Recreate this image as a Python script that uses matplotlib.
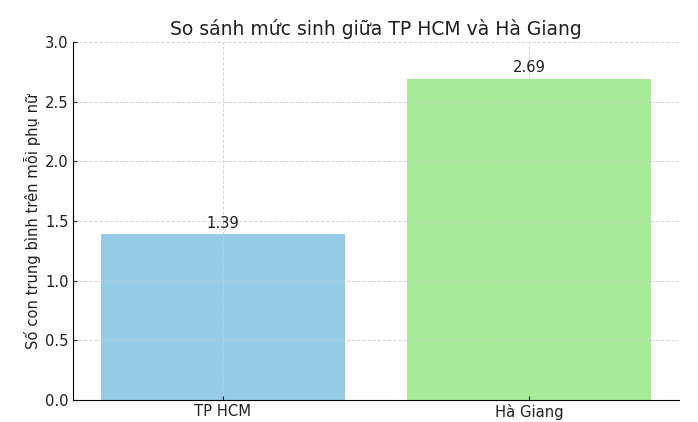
import matplotlib
matplotlib.use("Agg")
import matplotlib.pyplot as plt

regions = ["TP HCM", "Hà Giang"]
fertility = [1.39, 2.69]
colors = ["#96cbe8", "#a7eb98"]

plt.rcParams["text.color"] = "#1f1f1f"
plt.rcParams["axes.labelcolor"] = "#1f1f1f"
plt.rcParams["xtick.color"] = "#1f1f1f"
plt.rcParams["ytick.color"] = "#1f1f1f"

fig = plt.figure(figsize=(6.98, 4.22), dpi=100)
ax = fig.add_axes([0.1046, 0.0521, 0.8682, 0.8484])

bars = ax.bar(regions, fertility, color=colors)
ax.set_ylim(0, 3.0)
ax.set_title("So sánh mức sinh giữa TP HCM và Hà Giang", fontsize=13.5, pad=5)
ax.set_ylabel("Số con trung bình trên mỗi phụ nữ", fontsize=10.6, labelpad=3)
ax.tick_params(labelsize=10.6, direction="in", length=3, pad=3)
ax.grid(True, linestyle="--", color="#cccccc", linewidth=0.7, alpha=0.8)
ax.spines["top"].set_visible(False)
ax.spines["right"].set_visible(False)

for b, v in zip(bars, fertility):
    ax.text(b.get_x() + b.get_width() / 2, v + 0.03, f"{v:.2f}",
            ha="center", va="bottom", fontsize=10.6)

fig.savefig("out.png", dpi=100)
